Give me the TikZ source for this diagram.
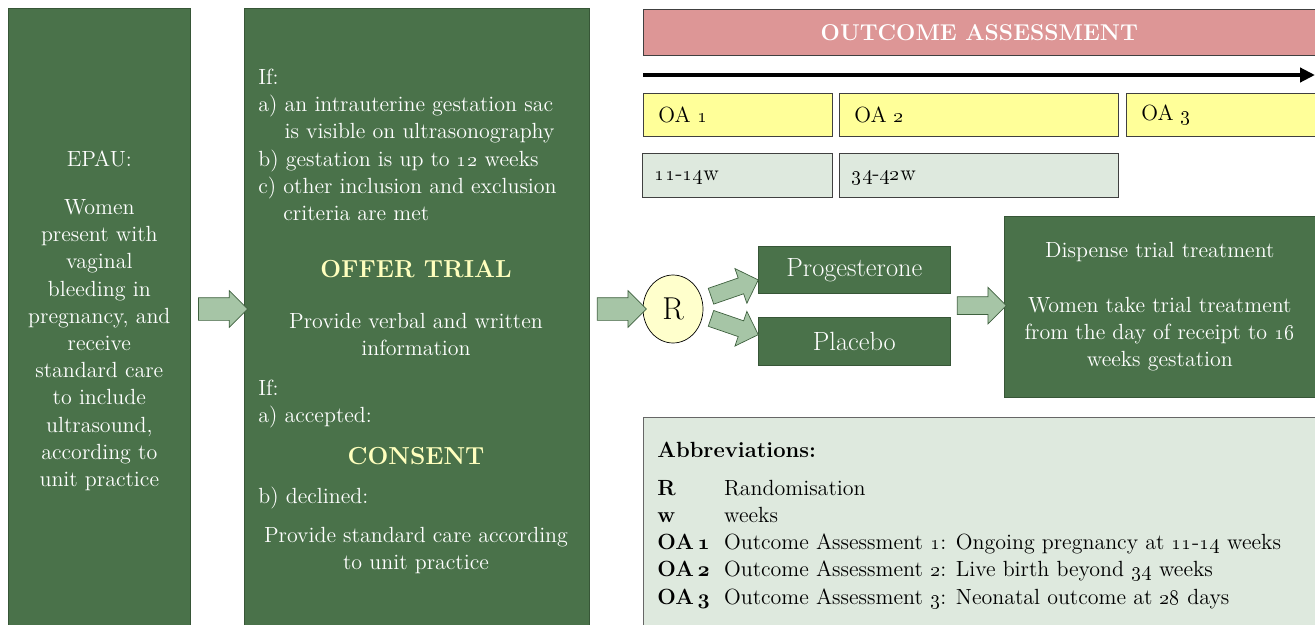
\documentclass[tikz,border=0pt]{standalone}
\usepackage{tikz}
\usetikzlibrary{positioning,calc,shapes.geometric,shapes.arrows,arrows.meta}
\tikzset{>=stealth}
\definecolor{boxgreen}{RGB}{74,114,74}
\definecolor{arrowgreen}{RGB}{166,197,166}
\definecolor{palegreen}{RGB}{222,233,222}
\definecolor{oayellow}{RGB}{255,255,153}
\definecolor{ryellow}{RGB}{255,255,204}
\definecolor{titleyellow}{RGB}{255,255,190}
\definecolor{barpink}{RGB}{221,150,150}
\newcommand{\osn}[1]{\oldstylenums{#1}}
\newcommand{\bosn}[1]{{\usefont{OML}{cmm}{b}{it}#1}}
\newcommand{\bodyfont}{\fontsize{12.5}{15.5}\selectfont}
\tikzset{
  greenbox/.style={draw=boxgreen!75!black,fill=boxgreen,text=white,font=\bodyfont,inner sep=0pt,anchor=north west},
  fatarrow/.style={single arrow,draw=boxgreen!85!black,fill=arrowgreen,inner xsep=0pt,inner ysep=0.22cm,minimum height=0.98cm,single arrow head extend=0.14cm},
  thinarrow/.style={fatarrow,inner ysep=0.16cm,single arrow head extend=0.2cm,minimum height=1.0cm},
  oabox/.style={draw=black!75,fill=oayellow,font=\bodyfont,anchor=north west,minimum height=0.86cm,align=left,inner xsep=0.3cm,text width=#1},
  wkbox/.style={draw=black!75,fill=palegreen,font=\bodyfont,anchor=north west,minimum height=0.88cm,align=left,inner xsep=0.25cm,text width=#1},
  whitetext/.style={text=white,font=\bodyfont,inner sep=0pt},
  bigtitle/.style={text=titleyellow,font=\fontsize{14}{17}\selectfont\bfseries,inner sep=0pt}
}

\begin{document}
\begin{tikzpicture}[x=0.02cm,y=-0.02cm]
\useasboundingbox (0,0) rectangle (1315,625);
\node[greenbox,minimum width=3.64cm,minimum height=12.5cm,align=center] (epau) at (8,8)
  {EPAU:\\[11.8pt]Women\\present with\\vaginal\\bleeding in\\pregnancy, and\\receive\\standard care\\to include\\ultrasound,\\according to\\unit practice};
\node[greenbox,minimum width=6.9cm,minimum height=12.5cm] (offer) at (244,8) {};
\node[whitetext,anchor=north west,align=left] (critlist) at (258,65)
  {\strut If:\\a) an intrauterine gestation sac\\\hphantom{a) }is visible on ultrasonography\\b) gestation is up to \osn{12} weeks\\c) other inclusion and exclusion\\\hphantom{c) }criteria are met};
\node[bigtitle,anchor=base] (offerlbl) at (416,277) {OFFER TRIAL};
\node[whitetext,anchor=north,align=center] (infolbl) at (416,309) {\strut Provide verbal and written\\information};
\node[whitetext,anchor=north west,align=left] (iflist) at (258,376) {\strut If:\\a) accepted:};
\node[bigtitle,anchor=base] (consentlbl) at (416,464) {CONSENT};
\node[whitetext,anchor=base west] (declinedlbl) at (258,503) {b) declined:};
\node[whitetext,anchor=north,align=center] (carelbl) at (416,523) {\strut Provide standard care according\\to unit practice};

\node[anchor=north west,draw=black!75,fill=barpink,text=white,font=\fontsize{13}{16}\selectfont\bfseries,minimum width=13.44cm,minimum height=0.92cm] (oabar) at (643,9) {OUTCOME ASSESSMENT};
\coordinate (tstart) at (643,75);
\coordinate (tend) at (1315,75);
\draw[line width=2.6pt,-{Triangle[length=8.5pt,width=8pt]}] (tstart) -- (tend);
\node[oabox=3.18cm] (oa1) at (643,93) {OA \osn{1}};
\node[oabox=4.98cm] (oa2) at (839,93) {OA \osn{2}};
\node[oabox=3.18cm] (oa3) at (1126,93) {OA \osn{3}};
\node[wkbox=3.3cm,text depth=0pt] (wk1) at (642,153) {\osn{11}-\osn{14}w};
\node[wkbox=5.08cm,text depth=0pt] (wk2) at (839,153) {\osn{34}-\osn{42}w};

\node[ellipse,draw=black,fill=ryellow,minimum width=1.2cm,minimum height=1.36cm,inner sep=0pt,font=\fontsize{18}{20}\selectfont] (rnd) at (673,309) {R};
\node[greenbox,minimum width=3.84cm,minimum height=0.94cm,font=\fontsize{15}{18}\selectfont] (prog) at (758,246) {Progesterone};
\node[greenbox,minimum width=3.84cm,minimum height=0.96cm,font=\fontsize{15}{18}\selectfont] (plac) at (758,317) {Placebo};
\node[greenbox,minimum width=6.22cm,minimum height=3.62cm,align=center] (disp) at (1004,216)
  {Dispense trial treatment\\[15.5pt]Women take trial treatment\\from the day of receipt to \osn{16}\\weeks gestation};

\node[fatarrow] (a1) at ($(epau.east |- rnd)!0.5!(offer.west |- rnd)$) {};
\node[fatarrow] (a2) at ($(offer.east |- rnd)!0.5!(rnd.west)$) {};
\node[thinarrow,rotate=19] (a4) at ($(rnd.east)!0.5!(prog.west)$) {};
\node[thinarrow,rotate=-19] (a5) at ($(rnd.east)!0.5!(plac.west)$) {};
\coordinate (pp) at ($(prog.east)!0.5!(plac.east)$);
\node[fatarrow,inner ysep=0.17cm,single arrow head extend=0.19cm] (a3) at ($(pp)!0.5!(disp.west |- pp)$) {};

\node[anchor=north west,draw=black!60,fill=palegreen,minimum width=13.44cm,minimum height=4.4cm] (abbr) at (643,417) {};
\node[anchor=north west,inner sep=0pt,font=\bodyfont] (abbrlist) at (657,438)
  {\begin{tabular}{@{}p{38pt}@{}l@{}}
  \multicolumn{2}{@{}l}{\textbf{Abbreviations:}}\\[6pt]
  \textbf{R} & Randomisation\\
  \textbf{w} & weeks\\
  \textbf{OA\,\bosn{1}} & Outcome Assessment \osn{1}: Ongoing pregnancy at \osn{11}-\osn{14} weeks\\
  \textbf{OA\,\bosn{2}} & Outcome Assessment \osn{2}: Live birth beyond \osn{34} weeks\\
  \textbf{OA\,\bosn{3}} & Outcome Assessment \osn{3}: Neonatal outcome at \osn{28} days
  \end{tabular}};
\end{tikzpicture}
\end{document}
